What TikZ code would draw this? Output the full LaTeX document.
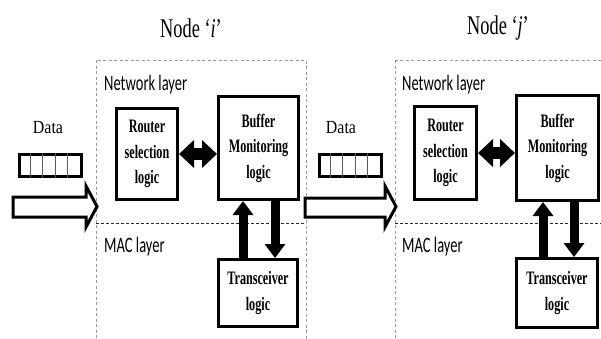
\documentclass[tikz,border=0pt]{standalone}
\usepackage{fontspec}
\usepackage{tikz}
\usetikzlibrary{arrows.meta,positioning}
\newfontfamily\boxfont{Liberation Serif}[FakeStretch=0.64]
\newfontfamily\titlefont{Liberation Serif}[FakeStretch=0.68]
\newfontfamily\datafont{Liberation Serif}[FakeStretch=0.86]
\newfontfamily\layerfont{Carlito}[FakeStretch=0.66]

\begin{document}
\begin{tikzpicture}[
            x=1pt,
            y=-1pt,
            every node/.style={
                    inner sep=0pt,
                    align=center
                },
            logicbox/.style={
                    rectangle,
                    draw=black,
                    line width=3pt,
                    font=\boxfont\bfseries\fontsize{19}{25.5}\selectfont
                },
            title/.style={
                    font=\titlefont\fontsize{27}{30}\selectfont
                },
            layerlabel/.style={
                    anchor=west,
                    font=\layerfont\fontsize{22}{24}\selectfont
                },
            datalabel/.style={
                    font=\datafont\fontsize{18.5}{20}\selectfont
                },
            queue/.style={
                    rectangle,
                    draw=black,
                    line width=3pt,
                    minimum width=62pt,
                    minimum height=22pt
                },
            frame/.style={
                    draw=gray!80,
                    line width=0.9pt,
                    dash pattern=on 3pt off 2.5pt
                },
            divider/.style={
                    draw=black!85,
                    line width=1pt,
                    dash pattern=on 3pt off 2pt
                },
            hollow/.style={
                    draw=black,
                    line width=3pt,
                    line join=miter,
                    fill=white
                },
            dblarrow/.style={
                    line width=12pt,
                    {Triangle[length=15pt,width=27pt]}-{Triangle[length=15pt,width=27pt]}
                },
            fatarrow/.style={
                    line width=9pt,
                    -{Triangle[length=14pt,width=20pt]}
                }
        ]

        \useasboundingbox (0,0) rectangle (601,338);

        % node i
        \draw[frame] (96,60) rectangle (306,350);
        \draw[divider] (96,223) -- (306,223);
        \node[title] (ti) at (191,28) {Node ‘\textit{i}’};
        \node[layerlabel] (nli) at (104,85) {Network layer};
        \node[layerlabel] (mli) at (104,247) {MAC layer};

        \node[logicbox, minimum width=61pt, minimum height=91pt] (rsi) at (147,154) {Router\\selection\\logic};
        \node[logicbox, minimum width=80pt, minimum height=103pt] (bmi) at (258.5,148) {Buffer\\Monitoring\\logic};
        \node[logicbox, minimum width=79pt, minimum height=67pt] (tri) at (258,293) {Transceiver\\logic};

        \draw[dblarrow] (rsi.east) -- (rsi.east -| bmi.west);
        \draw[fatarrow] ([xshift=-15pt]tri.north) -- ([xshift=-15pt]tri.north |- bmi.south);
        \draw[fatarrow] ([xshift=17pt]tri.north |- bmi.south) -- ([xshift=17pt]tri.north);

        % data into node i
        \node[datalabel] (dli) at (48,128) {Data};
        \node[queue] (qi) at (50.5,165.5) {};
        \foreach \k in {1,...,4}
            \draw[gray!70!black, line width=1pt] ([xshift=\k*12.4pt]qi.north west) -- ([xshift=\k*12.4pt]qi.south west);
        \draw[hollow] (13,197) -- (86,197) -- (86,186) -- (97,206.5) -- (86,227) -- (86,217) -- (13,217) -- cycle;

        % node j
        \draw[frame] (395,60) rectangle (615,350);
        \draw[divider] (395,223) -- (615,223);
        \node[title] (tj) at (498,28) {Node ‘\textit{j}’};
        \node[layerlabel] (nlj) at (402,85) {Network layer};
        \node[layerlabel] (mlj) at (402,247) {MAC layer};

        \node[logicbox, minimum width=62pt, minimum height=93pt] (rsj) at (445.5,153) {Router\\selection\\logic};
        \node[logicbox, minimum width=82pt, minimum height=105pt] (bmj) at (557.5,148) {Buffer\\Monitoring\\logic};
        \node[logicbox, minimum width=81pt, minimum height=69pt] (trj) at (557,293) {Transceiver\\logic};

        \draw[dblarrow] (rsj.east) -- (rsj.east -| bmj.west);
        \draw[fatarrow] ([xshift=-14pt]trj.north) -- ([xshift=-14pt]trj.north |- bmj.south);
        \draw[fatarrow] ([xshift=17pt]trj.north |- bmj.south) -- ([xshift=17pt]trj.north);

        % data from node i to node j
        \node[datalabel] (dlj) at (341,128) {Data};
        \node[queue] (qj) at (350.5,165) {};
        \foreach \k in {1,...,4}
            \draw[gray!70!black, line width=1pt] ([xshift=\k*12.4pt]qj.north west) -- ([xshift=\k*12.4pt]qj.south west);
        \draw[hollow] (305,198) -- (385,198) -- (385,186) -- (396,206.5) -- (385,227) -- (385,217) -- (305,217) -- cycle;

    \end{tikzpicture}
\end{document}
